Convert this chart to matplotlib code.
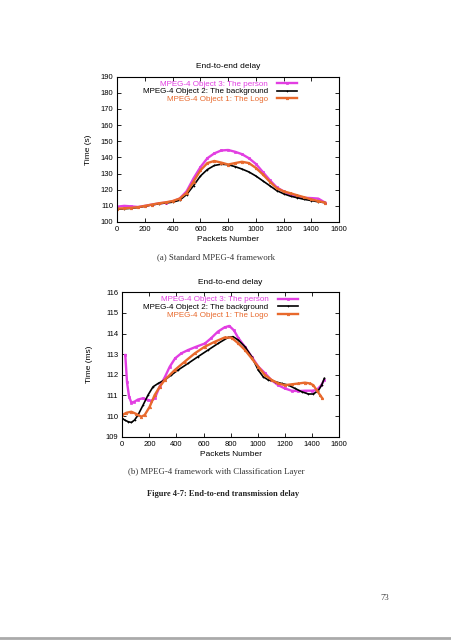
import matplotlib
matplotlib.use("Agg")
import matplotlib.pyplot as plt

plt.rcParams['font.family'] = ['Liberation Sans', 'DejaVu Sans']

# ---------------- data: (a) standard MPEG-4 framework ----------------
top_x = [0, 50, 100, 150, 200, 250, 300, 350, 400, 450, 500, 550, 600, 650, 700,
         750, 800, 850, 900, 950, 1000, 1050, 1100, 1150, 1200, 1250, 1300, 1350,
         1400, 1450, 1500]
top_person = [109.5, 110.0, 109.7, 109.3, 110.0, 110.8, 111.5, 112.0, 112.8, 114.5,
              119.0, 127.0, 134.0, 139.5, 142.5, 144.3, 144.6, 143.5, 142.0, 139.5,
              136.0, 131.0, 126.0, 121.5, 119.0, 117.0, 116.0, 115.0, 114.8, 114.5,
              112.0]
top_background = [108.0, 108.2, 108.5, 109.0, 109.8, 110.6, 111.3, 111.8, 112.3, 113.5,
                  117.0, 122.5, 128.5, 132.5, 135.0, 135.8, 135.5, 134.3, 132.8, 131.0,
                  128.5, 125.5, 122.5, 119.5, 117.5, 116.0, 115.0, 114.0, 113.3, 112.5,
                  112.0]
top_logo = [108.3, 108.5, 108.8, 109.2, 110.0, 110.8, 111.6, 112.2, 113.0, 114.5,
            118.0, 125.0, 132.0, 136.5, 137.8, 136.8, 135.6, 136.5, 137.3, 136.5,
            133.5, 129.5, 125.0, 121.0, 119.0, 117.8, 116.5, 115.3, 114.0, 113.0,
            112.0]

# ---------------- data: (b) with classification layer ----------------
bot_person_x = [22, 35, 50, 67, 90, 115, 150, 190, 215, 240, 275, 315, 350, 390, 435,
                485, 545, 610, 655, 705, 755, 790, 825, 855, 905, 955, 1005, 1055,
                1100, 1150, 1200, 1250, 1300, 1350, 1400, 1435, 1470, 1490]
bot_person = [112.96, 111.63, 110.94, 110.65, 110.70, 110.80, 110.86, 110.78, 110.74,
              110.86, 111.42, 111.90, 112.39, 112.80, 113.04, 113.20, 113.36, 113.52,
              113.77, 114.09, 114.30, 114.37, 114.15, 113.80, 113.36, 112.88, 112.39,
              112.07, 111.75, 111.50, 111.34, 111.23, 111.21, 111.23, 111.23, 111.26,
              111.50, 111.75]
bot_background_x = [0, 17, 42, 67, 91, 116, 153, 190, 227, 264, 313, 362, 411, 485,
                    559, 633, 707, 781, 818, 857, 906, 955, 1004, 1041, 1078, 1127,
                    1176, 1226, 1275, 1324, 1374, 1410, 1447, 1472, 1492]
bot_background = [109.89, 109.81, 109.73, 109.69, 109.81, 110.05, 110.53, 111.02,
                  111.42, 111.58, 111.75, 111.99, 112.23, 112.55, 112.88, 113.20,
                  113.52, 113.81, 113.85, 113.68, 113.36, 112.88, 112.23, 111.90,
                  111.75, 111.67, 111.58, 111.50, 111.34, 111.18, 111.07, 111.07,
                  111.23, 111.50, 111.83]
bot_logo_x = [0, 30, 67, 104, 140, 165, 202, 239, 276, 313, 387, 461, 535, 608, 682,
              756, 807, 857, 906, 955, 1004, 1053, 1103, 1152, 1201, 1251, 1300, 1349,
              1386, 1410, 1435, 1460, 1477]
bot_logo = [110.05, 110.16, 110.21, 110.10, 109.97, 110.05, 110.45, 111.02, 111.42,
            111.75, 112.23, 112.64, 113.04, 113.36, 113.60, 113.81, 113.80, 113.52,
            113.20, 112.80, 112.39, 111.99, 111.75, 111.58, 111.50, 111.54, 111.58,
            111.62, 111.58, 111.50, 111.26, 111.02, 110.86]

labels = ["MPEG-4 Object 3: The person",
          "MPEG-4 Object 2: The background",
          "MPEG-4 Object 1: The Logo"]
colors = ["#e23ee2", "#000000", "#e8692c"]
markers = ["s", "+", "^"]
widths = [1.7, 1.2, 1.7]

W, H = 452, 640
fig = plt.figure(figsize=(W / 100, H / 100), dpi=100)
FS = 5.5


def style_axes(ax):
    ax.tick_params(direction='in', length=3, width=0.6, labelsize=FS,
                   top=True, right=True, pad=3)
    for s in ax.spines.values():
        s.set_linewidth(0.8)
    ax.set_xlabel("Packets Number", fontsize=FS + 0.5, labelpad=2)
    ax.set_title("End-to-end delay", fontsize=FS + 0.5, pad=6)


def add_legend(ax):
    leg = ax.legend(loc='upper right', bbox_to_anchor=(0.835, 1.015), frameon=False,
                    fontsize=FS + 0.3, markerfirst=False, handlelength=2.4,
                    handletextpad=1.2, labelspacing=0.0, borderpad=0.2, numpoints=1)
    for t, c in zip(leg.get_texts(), colors):
        t.set_color(c)
    try:
        leg._legend_handle_box.get_children()[0].align = "right"
    except Exception:
        pass


def draw(ax, xs, ys):
    for x, y, lab, c, m, lw in zip(xs, ys, labels, colors, markers, widths):
        ax.plot(x, y, color=c, marker=m, markersize=1.8, linewidth=lw,
                markeredgewidth=0.5, label=lab)


# ---- top panel ----
ax1 = fig.add_axes([117.3 / W, 1 - 222 / H, (339 - 117.3) / W, (222 - 76.7) / H])
draw(ax1, [top_x, top_x, top_x], [top_person, top_background, top_logo])
ax1.set_xlim(0, 1600)
ax1.set_ylim(100, 190)
ax1.set_xticks(range(0, 1601, 200))
ax1.set_yticks(range(100, 191, 10))
style_axes(ax1)
ax1.set_ylabel("Time (s)", fontsize=FS + 0.5, labelpad=6)
add_legend(ax1)

# ---- bottom panel ----
ax2 = fig.add_axes([122.3 / W, 1 - 436.7 / H, (339 - 122.3) / W, (436.7 - 292.3) / H])
draw(ax2, [bot_person_x, bot_background_x, bot_logo_x],
     [bot_person, bot_background, bot_logo])
ax2.set_xlim(0, 1600)
ax2.set_ylim(109, 116)
ax2.set_xticks(range(0, 1601, 200))
ax2.set_yticks(range(109, 117, 1))
style_axes(ax2)
ax2.set_ylabel("Time (ms)", fontsize=FS + 0.5, labelpad=9)
add_legend(ax2)

# ---- captions ----
serif = ['Liberation Serif', 'DejaVu Serif']
fig.text(216 / W, 1 - 257 / H, "(a) Standard MPEG-4 framework", family=serif,
         fontsize=6.3, ha='center', va='center', color='#333333')
fig.text(216 / W, 1 - 472 / H, "(b) MPEG-4 framework with Classification Layer",
         family=serif, fontsize=6.3, ha='center', va='center', color='#333333')
fig.text(223 / W, 1 - 494 / H, "Figure 4-7: End-to-end transmission delay",
         family=serif, fontsize=6.0, ha='center', va='center', weight='bold',
         color='#222222')
fig.text(385 / W, 1 - 598 / H, "73", family=serif, fontsize=6.3, ha='center',
         va='center', color='#444444')
fig.add_artist(plt.Line2D([0, 1], [1 - 638 / H, 1 - 638 / H], color='#aaaaaa',
                          linewidth=2, transform=fig.transFigure))

fig.savefig("out.png", dpi=100)
